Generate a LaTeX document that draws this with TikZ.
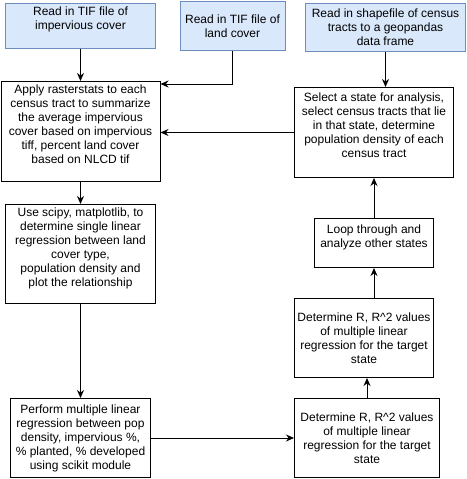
\documentclass[tikz,border=0pt]{standalone}
\usepackage{fontspec}
\setmainfont{Liberation Sans}
\definecolor{bb}{RGB}{218, 232, 252}
\definecolor{dd}{RGB}{108, 142, 191}
\usetikzlibrary{positioning,arrows.meta}

\begin{document}
\begin{tikzpicture}[x=1pt,y=-1pt,
  box/.style={rectangle, draw, line width=1pt, align=center, inner sep=0pt, font=\fontsize{12}{14}\selectfont},
  inbox/.style={box, draw=dd, fill=bb},
  arr/.style={-{Stealth[length=8pt,width=7pt]}, line width=1pt}]
\useasboundingbox (0,0) rectangle (466,479);

\node[inbox, minimum width=150pt, minimum height=45pt] (A) at (80.5,25.5) {Read in TIF file of\\ impervious cover\\ \mbox{}};
\node[inbox, minimum width=105pt, minimum height=49pt] (B) at (232.5,26) {Read in TIF file of\\ land cover};
\node[inbox, minimum width=160pt, minimum height=48pt] (C) at (385.5,27) {Read in shapefile of census\\ tracts to a geopandas\\ data frame};
\node[box, minimum width=159pt, minimum height=100pt] (D) at (80.5,131.5) {Apply rasterstats to each\\ census tract to summarize\\ the average impervious\\ cover based on impervious\\ tiff, percent land cover\\ based on NLCD tif\\ \mbox{}};
\node[box, minimum width=159pt, minimum height=90pt] (E) at (374,132.5) {Select a state for analysis,\\ select census tracts that lie\\ in that state, determine\\ population density of each\\ census tract\\ \mbox{}};
\node[box, minimum width=150pt, minimum height=99pt] (F) at (80.5,254) {Use scipy, matplotlib, to\\ determine single linear\\ regression between land\\ cover type,\\ population density and\\ plot the relationship\\ \mbox{}};
\node[box, minimum width=140pt, minimum height=79pt] (G) at (80.5,438) {Perform multiple linear\\ regression between pop\\ density, impervious \%,\\ \% planted, \% developed\\ using scikit module};
\node[box, minimum width=145pt, minimum height=79pt] (H) at (367,438) {Determine R, R\textasciicircum2 values\\ of multiple linear\\ regression for the target\\ state};
\node[box, minimum width=139pt, minimum height=79pt] (I) at (364,338) {Determine R, R\textasciicircum2 values\\ of multiple linear\\ regression for the target\\ state};
\node[box, minimum width=119pt, minimum height=49pt] (J) at (374,243) {Loop through and\\ analyze other states\\ \mbox{}};

\draw[arr] (A) -- (D);
\draw[arr] (B.south) |- ([yshift=-3pt]D.north east);
\draw[arr] (C.south) -- (C.south |- E.north);
\draw[arr] (E.west) -- (E.west -| D.east);
\draw[arr] (D) -- (F);
\draw[arr] (F) -- (G);
\draw[arr] (G) -- (H);
\draw[arr] (H.north) -- (H.north |- I.south);
\draw[arr] (J.south |- I.north) -- (J.south);
\draw[arr] (J) -- (E);

\end{tikzpicture}
\end{document}
